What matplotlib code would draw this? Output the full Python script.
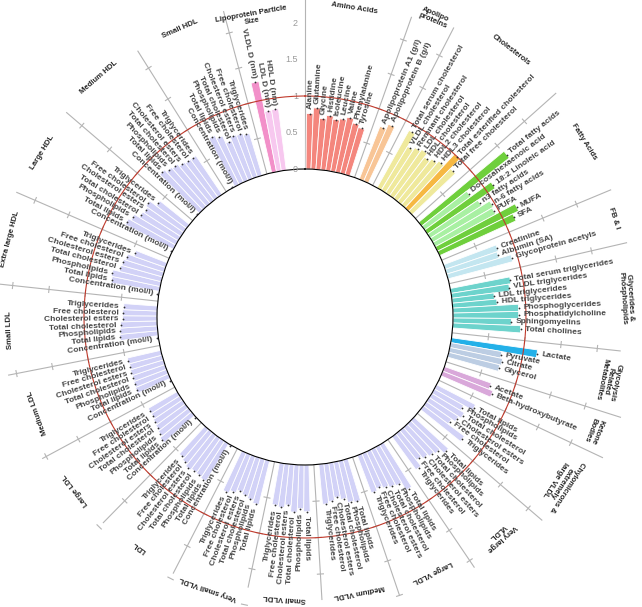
import numpy as np
import matplotlib.pyplot as plt
from matplotlib.transforms import ScaledTranslation

plt.rcParams['font.family'] = ['Liberation Sans', 'DejaVu Sans']

# ---------------- data ----------------
amino_labels = ['Alanine', 'Glutamine', 'Glycine', 'Histidine', 'Isoleucine',
                'Leucine', 'Valine', 'Phenylalanine', 'Tyrosine']
amino_values = [0.76, 0.84, 0.70, 0.75, 0.71, 0.73, 0.77, 0.71, 0.67]

apo_labels = ['Apolipoprotein A1 (g/l)', 'Apolipoprotein B (g/l)']
apo_values = [0.78, 0.85]

chol_labels = ['Total serum cholesterol', 'VLDL cholesterol', 'Remnant cholesterol',
               'LDL cholesterol', 'HDL cholesterol', 'HDL2 cholesterol',
               'HDL3 cholesterol', 'Total esterified cholesterol', 'Total free cholesterol']
chol_values = [0.90, 0.70, 0.74, 0.77, 0.71, 0.75, 0.79, 1.00, 0.82]

fa_labels = ['Total fatty acids', 'Docosahexaenoic acid', '18:2 Linoleic acid',
             'n3 fatty acids', 'n-6 fatty acids', 'PUFA', 'MUFA', 'SFA']
fa_values = [1.52, 0.78, 1.12, 0.83, 0.96, 0.94, 1.24, 1.15]

fbi_labels = ['Creatinine', 'Albumin (SA)', 'Glycoprotein acetyls']
fbi_values = [0.77, 0.75, 0.92]

gp_labels = ['Total serum triglycerides', 'VLDL triglycerides', 'LDL triglycerides',
             'HDL triglycerides', 'Phosphoglycerides', 'Phosphatidylcholine',
             'Sphingomyelins', 'Total cholines']
gp_values = [0.83, 0.80, 0.58, 0.61, 0.90, 0.90, 0.80, 0.93]

gly_labels = ['Lactate', 'Pyruvate', 'Citrate', 'Glycerol']
gly_values = [1.19, 0.71, 0.74, 0.72]

ket_labels = ['Acetate', 'Beta-hydroxybutyrate']
ket_values = [0.68, 0.74]

lipo_labels = ['Concentration (mol/l)', 'Total lipids', 'Phospholipids',
               'Total cholesterol', 'Cholesterol esters', 'Free cholesterol', 'Triglycerides']
vldl_labels = lipo_labels[1:]

chylo_values = [0.60, 0.46, 0.52, 0.48, 0.42, 0.70]
xlvldl_values = [0.64, 0.56, 0.53, 0.50, 0.46, 0.56]
lvldl_values = [0.72, 0.60, 0.58, 0.55, 0.52, 0.55]
mvldl_values = [0.60, 0.58, 0.52, 0.48, 0.52, 0.55]
svldl_values = [0.64, 0.60, 0.65, 0.56, 0.60, 0.58]
vsvldl_values = [0.62, 0.58, 0.55, 0.52, 0.56, 0.60]
ldl_values = [0.02, 0.60, 0.58, 0.57, 0.59, 0.55, 0.52]
lldl_values = [0.02, 0.56, 0.52, 0.50, 0.48, 0.46, 0.46]
mldl_values = [0.02, 0.49, 0.48, 0.47, 0.47, 0.46, 0.47]
sldl_values = [0.02, 0.52, 0.51, 0.50, 0.47, 0.47, 0.46]
xlhdl_values = [0.02, 0.67, 0.68, 0.59, 0.58, 0.55, 0.46]
lhdl_values = [0.02, 0.74, 0.70, 0.62, 0.60, 0.63, 0.52]
mhdl_values = [0.02, 0.76, 0.72, 0.70, 0.66, 0.64, 0.64]
shdl_values = [0.02, 0.75, 0.70, 0.59, 0.64, 0.63, 0.60]

lps_labels = ['VLDL D (nm)', 'LDL D (nm)', 'HDL D (nm)']
lps_values = [1.26, 0.84, 0.85]

groups = [
    ('Amino Acids', amino_labels, amino_values),
    ('Apolipo\nproteins', apo_labels, apo_values),
    ('Cholesterols', chol_labels, chol_values),
    ('Fatty Acids', fa_labels, fa_values),
    ('FB & I', fbi_labels, fbi_values),
    ('Glycerides &\nPhospholipids', gp_labels, gp_values),
    ('Glycolysis\nRelated\nMetabolites', gly_labels, gly_values),
    ('Ketone\nBodies', ket_labels, ket_values),
    ('Chylomicrons &\nextremely\nlarge VLDL', vldl_labels, chylo_values),
    ('Very large\nVLDL', vldl_labels, xlvldl_values),
    ('Large VLDL', vldl_labels, lvldl_values),
    ('Medium VLDL', vldl_labels, mvldl_values),
    ('Small VLDL', vldl_labels, svldl_values),
    ('Very small VLDL', vldl_labels, vsvldl_values),
    ('LDL', lipo_labels, ldl_values),
    ('Large LDL', lipo_labels, lldl_values),
    ('Medium LDL', lipo_labels, mldl_values),
    ('Small LDL', lipo_labels, sldl_values),
    ('Extra large HDL', lipo_labels, xlhdl_values),
    ('Large HDL', lipo_labels, lhdl_values),
    ('Medium HDL', lipo_labels, mhdl_values),
    ('Small HDL', lipo_labels, shdl_values),
    ('Lipoprotein Particle\nSize', lps_labels, lps_values),
]

# ---------------- style ----------------
lav = '#d2d2f7'
group_colors = {
    'Amino Acids': ['#f4867d'] * 9,
    'Apolipo\nproteins': ['#f8c596'] * 2,
    'Cholesterols': ['#efe99c'] * 7 + ['#f6b843', '#efe99c'],
    'Fatty Acids': ['#6fcf3c', '#a8f0a2', '#6fcf3c', '#a8f0a2', '#a8f0a2', '#a8f0a2',
                    '#6fcf3c', '#6fcf3c'],
    'FB & I': ['#c3e6f0'] * 3,
    'Glycerides &\nPhospholipids': ['#6dd3cc'] * 8,
    'Glycolysis\nRelated\nMetabolites': ['#23b0e8', '#bccde3', '#bccde3', '#bccde3'],
    'Ketone\nBodies': ['#d9a8da'] * 2,
    'Lipoprotein Particle\nSize': ['#f290c9', '#f7c8ef', '#f7c8ef'],
}
# radius (px from centre) of each group title and of each separator's outer end
title_r = [313, 326, 337, 329, 324, 322, 310, 310, 305, 292, 285, 280, 282, 288,
           283, 287, 284, 296, 305, 310, 316, 314, 304]
sep_r = [318, 325, 336, 331, 330, 317, 331, 329, 312, 302, 294, 283, 276, 288,
         288, 298, 302, 310, 314, 314, 314, 316]

R0 = 148.0      # px, inner radius (value 0)
SCALE = 73.0    # px per unit
CX, CY = 305.0, 317.0
W, H = 642, 607
VMAX = 2.7
GAP = 2
TOPGAP = 4
nbars = sum(len(g[2]) for g in groups)
nslots = nbars + GAP * (len(groups) - 1) + TOPGAP
slot = 2 * np.pi / nslots
offset = np.deg2rad(0.4)

fig = plt.figure(figsize=(W / 100, H / 100), dpi=100)
Rax = R0 + VMAX * SCALE
ax = fig.add_axes([(CX - Rax) / W, (H - CY - Rax) / H, 2 * Rax / W, 2 * Rax / H],
                  projection='polar')
ax.set_theta_zero_location('N')
ax.set_theta_direction(-1)
ax.set_rorigin(-R0 / SCALE)
ax.set_ylim(0, VMAX)
ax.grid(False)
ax.set_xticks([])
ax.set_yticks([])
for s in ax.spines.values():
    s.set_visible(False)
ax.patch.set_visible(False)

def v_of(px):
    return (px - R0) / SCALE

label_kw = dict(fontsize=6, fontweight='bold', color='#454545', va='center',
                rotation_mode='anchor')

pos = 0
sep_thetas = []
for gi, (title, labels, values) in enumerate(groups):
    n = len(values)
    th = offset + (pos + np.arange(n) + 0.5) * slot
    cols = group_colors.get(title, [lav] * n)
    ax.bar(th, values, width=slot, bottom=0, color=cols, edgecolor='white',
           linewidth=0.6, zorder=2)
    ax.plot(th, values, 'o', ms=1.3, mew=0, color='#303030', zorder=4)
    for t, v, lab in zip(th, values, labels):
        a = np.rad2deg(t) % 360
        if a < 180:
            ax.text(t, v + 0.06, lab, rotation=90 - a, ha='left', zorder=5, **label_kw)
        else:
            ax.text(t, v + 0.06, lab, rotation=270 - a, ha='right', zorder=5, **label_kw)
    tc = offset + (pos + n / 2) * slot
    ac = np.rad2deg(tc)
    ax.text(tc, v_of(title_r[gi]), title, rotation=-ac, ha='center', va='center',
            rotation_mode='anchor', fontsize=5.6, fontweight='bold', color='#262626',
            linespacing=1.05, multialignment='center')
    pos += n
    if gi < len(groups) - 1:
        sep_thetas.append(offset + (pos + GAP / 2) * slot)
        pos += GAP

# separators with small ticks
for t, rp in zip(sep_thetas, sep_r):
    ax.plot([t, t], [0, v_of(rp)], color='#b4b4b4', lw=0.8, zorder=1)
    for tv in [0.5, 1.0, 1.5, 2.0]:
        d = 3.0 / (R0 + tv * SCALE)
        ax.plot([t - d, t + d], [tv, tv], color='#b4b4b4', lw=0.8, zorder=1)

# top value axis
ax.plot([0, 0], [0, v_of(320)], color='#b4b4b4', lw=0.8, zorder=1)
shift = ax.transData + ScaledTranslation(-5 / 72, 0, fig.dpi_scale_trans)
for tv, tl in zip([0, 0.5, 1, 1.5, 2], ['0', '0.5', '1', '1.5', '2']):
    ax.text(0, tv, tl, transform=shift, ha='right', va='center', fontsize=6.5,
            color='#9a9a9a')

# reference circle at 1
circ = np.linspace(0, 2 * np.pi, 500)
ax.plot(circ, np.ones_like(circ), color='#c0392b', lw=0.8, zorder=3)

fig.savefig('out.png', dpi=100)
